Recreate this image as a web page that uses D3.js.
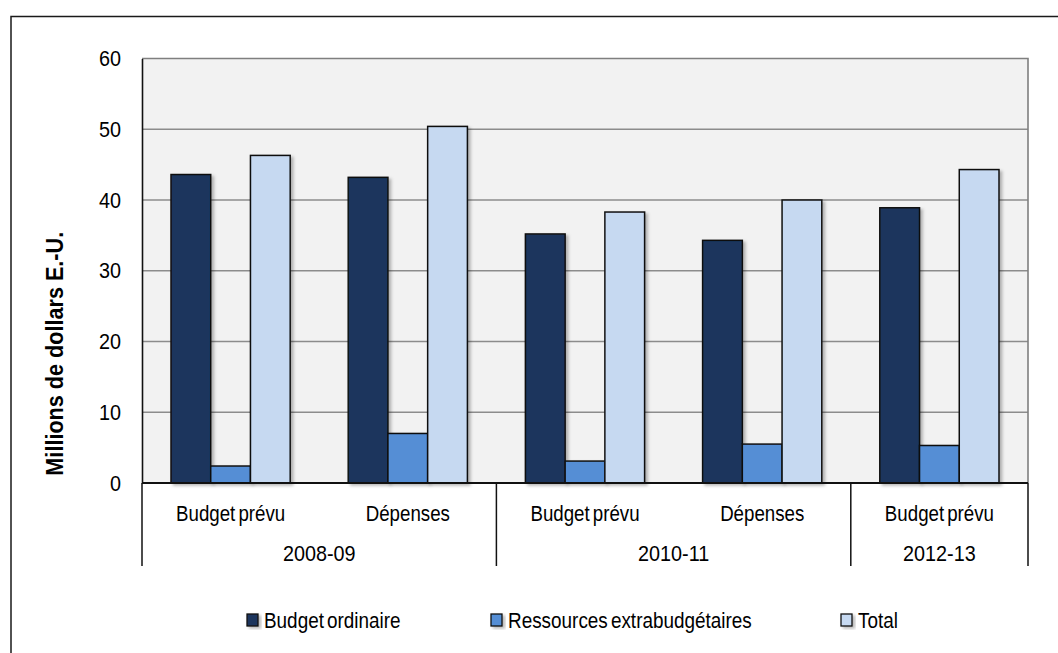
<!DOCTYPE html>
<html>
<head>
<meta charset="utf-8">
<script src="https://cdn.jsdelivr.net/npm/d3@7"></script>
<style>
  html, body { margin: 0; padding: 0; background: #ffffff; }
  svg { display: block; }
  text { font-family: "Liberation Sans Narrow", "Arial Narrow", "Liberation Sans", Arial, sans-serif; fill: #000; }
</style>
</head>
<body>
<svg id="chart" width="1058" height="653"></svg>
<script>
// Categories: budget period within each biennium
const periods = ["2008-09", "2008-09", "2010-11", "2010-11", "2012-13"];
const subLabels = ["Budget prévu", "Dépenses", "Budget prévu", "Dépenses", "Budget prévu"];
const years = ["2008-09", "2010-11", "2012-13"];

// Series values (millions of US dollars)
const seriesNames = ["Budget ordinaire", "Ressources extrabudgétaires", "Total"];
const budgetOrdinaire = [43.6, 43.2, 35.2, 34.3, 38.9];
const extrabudgetaires = [2.4, 7.0, 3.1, 5.5, 5.3];
const totals = [46.3, 50.4, 38.3, 40.0, 44.3];

const yTicks = [0, 10, 20, 30, 40, 50, 60];
const colors = ["#1a365d", "#558ed5", "#c6d9f1"];

const svg = d3.select("#chart");
const W = 1058, H = 653;
const plot = { left: 142, right: 1028, top: 58.5, bottom: 483 };

// condensed text: draw at (x, y) and squeeze horizontally
function squeezed(sel, sx) {
  return sel.attr("transform", d => `translate(${d.tx},${d.ty}) scale(${sx},1)`);
}

// drop shadow used by bars and legend keys
const defs = svg.append("defs");
const f = defs.append("filter").attr("id", "shadow")
  .attr("x", "-20%").attr("y", "-20%").attr("width", "150%").attr("height", "150%");
f.append("feDropShadow").attr("dx", 2.5).attr("dy", 2).attr("stdDeviation", 1.6)
  .attr("flood-color", "#000").attr("flood-opacity", 0.28);

// outer frame (runs past the right and bottom edges)
svg.append("rect").attr("x", 11).attr("y", 16.5).attr("width", W + 20).attr("height", H + 20)
  .attr("fill", "none").attr("stroke", "#1a1a1a").attr("stroke-width", 1.5);

const cats = d3.range(periods.length);
const x0 = d3.scaleBand().domain(cats).range([plot.left, plot.right]).paddingInner(0).paddingOuter(0);
const x1 = d3.scaleBand().domain(d3.range(seriesNames.length)).range([0, x0.bandwidth()])
  .paddingInner(0).paddingOuter(0.73);
const y = d3.scaleLinear().domain([0, 60]).range([plot.bottom, plot.top]);

// plot background
svg.append("rect").attr("x", plot.left).attr("y", plot.top)
  .attr("width", plot.right - plot.left).attr("height", plot.bottom - plot.top)
  .attr("fill", "#f2f2f2");

// gridlines
svg.append("g").selectAll("line").data(yTicks.filter(t => t > 0 && t < 60)).join("line")
  .attr("x1", plot.left).attr("x2", plot.right)
  .attr("y1", d => y(d)).attr("y2", d => y(d))
  .attr("stroke", "#8c8c8c").attr("stroke-width", 1.6);

// top and right border of plot area
svg.append("path")
  .attr("d", `M${plot.left},${plot.top}H${plot.right}V${plot.bottom}`)
  .attr("fill", "none").attr("stroke", "#7f7f7f").attr("stroke-width", 1.6);

// bars
const values = [budgetOrdinaire, extrabudgetaires, totals];
const barData = [];
cats.forEach(c => values.forEach((vals, s) => barData.push({ c, s, v: vals[c] })));

svg.append("g").selectAll("rect").data(barData).join("rect")
  .attr("x", d => x0(d.c) + x1(d.s))
  .attr("y", d => y(d.v))
  .attr("width", x1.bandwidth())
  .attr("height", d => y(0) - y(d.v))
  .attr("fill", d => colors[d.s])
  .attr("stroke", "#111")
  .attr("stroke-width", 1.5)
  .attr("filter", "url(#shadow)");

// y axis
const tickSx = 0.9;
const yAxis = d3.axisLeft(y).tickValues(yTicks).tickSize(0).tickPadding(21).tickFormat(d3.format("d"));
const gy = svg.append("g").attr("transform", `translate(${plot.left},0)`).call(yAxis);
gy.select(".domain").attr("stroke", "#111").attr("stroke-width", 1.6);
gy.selectAll("text").attr("font-size", 22)
  .attr("x", -21 / tickSx)
  .attr("transform", `scale(${tickSx},1)`)
  .attr("fill", "#111");

// baseline
svg.append("line").attr("x1", plot.left).attr("x2", plot.right)
  .attr("y1", y(0)).attr("y2", y(0)).attr("stroke", "#111").attr("stroke-width", 1.8);

// category separators below the axis
const sepBottom = 566;
const boundaries = [0];
periods.forEach((p, i) => { if (i > 0 && p !== periods[i - 1]) boundaries.push(i); });
boundaries.push(periods.length);
svg.append("g").selectAll("line").data(boundaries).join("line")
  .attr("x1", d => d < periods.length ? x0(d) : plot.right)
  .attr("x2", d => d < periods.length ? x0(d) : plot.right)
  .attr("y1", y(0)).attr("y2", sepBottom)
  .attr("stroke", "#111").attr("stroke-width", 1.5);

// sub-category labels
const subData = cats.map(c => ({ label: subLabels[c], tx: x0(c) + x0.bandwidth() / 2, ty: 513 }));
squeezed(svg.append("g").selectAll("text").data(subData).join("text"), 0.85)
  .attr("dy", "0.35em")
  .attr("text-anchor", "middle").attr("font-size", 22)
  .attr("word-spacing", -2.5)
  .text(d => d.label);

// year labels centred on their group
const yearData = years.map(yr => {
  const idx = cats.filter(i => periods[i] === yr);
  return { label: yr, tx: (x0(idx[0]) + x0(idx[idx.length - 1]) + x0.bandwidth()) / 2, ty: 553 };
});
squeezed(svg.append("g").selectAll("text").data(yearData).join("text"), 0.9)
  .attr("dy", "0.35em")
  .attr("text-anchor", "middle").attr("font-size", 22)
  .text(d => d.label);

// y axis title
svg.append("text")
  .attr("transform", `translate(63,${(plot.top + plot.bottom) / 2 + 83}) rotate(-90) scale(0.94,1)`)
  .attr("text-anchor", "middle").attr("font-size", 23).attr("font-weight", "bold")
  .text("Millions de dollars E.-U.");

// legend
const legendItems = [
  { name: seriesNames[0], x: 247 },
  { name: seriesNames[1], x: 491 },
  { name: seriesNames[2], x: 841 }
];
const lg = svg.append("g").selectAll("g").data(legendItems).join("g")
  .attr("transform", d => `translate(${d.x},620)`);
lg.append("rect").attr("x", 0).attr("y", -6).attr("width", 11).attr("height", 12)
  .attr("fill", (d, i) => colors[i]).attr("stroke", "#111").attr("stroke-width", 1.3)
  .attr("filter", "url(#shadow)");
lg.append("text").attr("transform", "translate(17,0) scale(0.86,1)")
  .attr("dy", "0.35em").attr("font-size", 22)
  .attr("word-spacing", -2.5)
  .text(d => d.name);
</script>
</body>
</html>
